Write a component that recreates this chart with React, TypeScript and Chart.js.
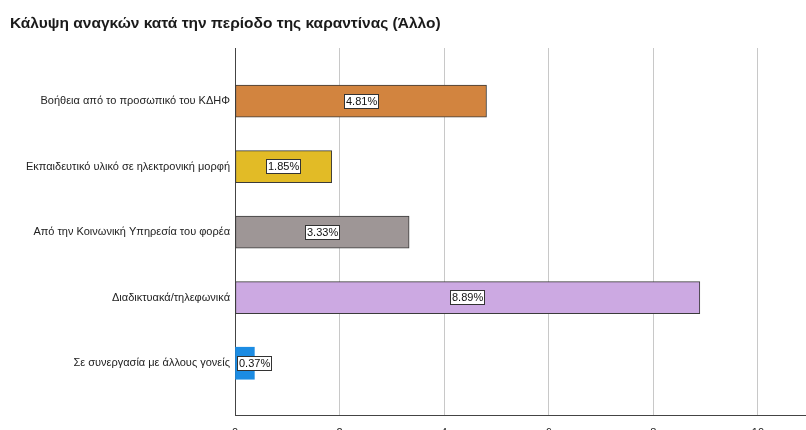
import React, { useEffect, useRef } from "react";
import { Chart, registerables } from "chart.js";

Chart.register(...registerables);

const TITLE = "Κάλυψη αναγκών κατά την περίοδο της καραντίνας (Άλλο)";
const categories = [
  "Βοήθεια από το προσωπικό του ΚΔΗΦ",
  "Εκπαιδευτικό υλικό σε ηλεκτρονική μορφή",
  "Από την Κοινωνική Υπηρεσία του φορέα",
  "Διαδικτυακά/τηλεφωνικά",
  "Σε συνεργασία με άλλους γονείς",
];
const values = [4.81, 1.85, 3.33, 8.89, 0.37];
const valueLabels = ["4.81%", "1.85%", "3.33%", "8.89%", "0.37%"];
const barColors = ["#D2843F", "#E2BB26", "#9E9696", "#CCA9E2", "#1C8CE3"];
const xTicks = [0, 2, 4, 6, 8, 10];

const FONT = "Arial, 'Liberation Sans', sans-serif";

const titlePlugin = {
  id: "customTitle",
  afterDraw(chart: any) {
    const ctx = chart.ctx;
    ctx.save();
    ctx.font = `bold 15.5px ${FONT}`;
    ctx.fillStyle = "#1a1a1a";
    ctx.textAlign = "left";
    ctx.textBaseline = "middle";
    ctx.fillText(TITLE, 10, 24);
    ctx.restore();
  },
};

const labelPlugin = {
  id: "boxLabels",
  afterDatasetsDraw(chart: any) {
    const ctx = chart.ctx;
    const meta = chart.getDatasetMeta(0);
    const area = chart.chartArea;
    ctx.save();
    ctx.font = `11px ${FONT}`;
    ctx.textBaseline = "middle";
    ctx.textAlign = "left";
    meta.data.forEach((bar: any, i: number) => {
      const text = valueLabels[i];
      const tw = ctx.measureText(text).width;
      const w = Math.round(tw + 4);
      const h = 15;
      const cx = (bar.x + bar.base) / 2;
      let left = Math.round(cx - w / 2);
      if (left < area.left + 2) left = Math.round(area.left + 2);
      const top = Math.round(bar.y - h / 2);
      ctx.fillStyle = "#ffffff";
      ctx.fillRect(left, top, w, h);
      ctx.strokeStyle = "#333333";
      ctx.lineWidth = 1;
      ctx.strokeRect(left + 0.5, top + 0.5, w - 1, h - 1);
      ctx.fillStyle = "#111111";
      ctx.fillText(text, left + 2, top + h / 2 + 0.5);
    });
    ctx.restore();
  },
};

export default function App() {
  const ref = useRef<HTMLCanvasElement | null>(null);
  useEffect(() => {
    if (!ref.current) return;
    const chart = new Chart(ref.current, {
      type: "bar",
      data: {
        datasets: [
          {
            data: values.map((v, i) => ({ x: v, y: i })),
            backgroundColor: barColors,
            borderColor: "#3a3a3a",
            borderWidth: [1, 1, 1, 1, 0],
            borderSkipped: false,
            barThickness: 32,
          },
        ],
      },
      plugins: [titlePlugin, labelPlugin],
      options: {
        indexAxis: "y",
        animation: false,
        responsive: false,
        maintainAspectRatio: false,
        layout: { padding: { top: 48, left: 0, right: 0, bottom: 0 } },
        plugins: {
          legend: { display: false },
          title: { display: false },
          tooltip: { enabled: false },
        },
        scales: {
          x: {
            type: "linear",
            min: 0,
            max: 10.92,
            offset: false,
            afterBuildTicks: (scale: any) => {
              scale.ticks = xTicks.map((v) => ({ value: v }));
            },
            afterFit: (scale: any) => {
              scale.height = 15;
            },
            grid: { color: "#c8c8c8", lineWidth: 1, drawTicks: false, offset: false },
            border: { display: true, color: "#444444", width: 1 },
            ticks: {
              padding: 11,
              font: { family: FONT, size: 11 },
              color: "#222222",
              maxRotation: 0,
            },
          },
          y: {
            type: "linear",
            reverse: true,
            offset: false,
            min: -0.81,
            max: 4.79,
            afterBuildTicks: (scale: any) => {
              scale.ticks = categories.map((_, i) => ({ value: i }));
            },
            afterFit: (scale: any) => {
              scale.width = 235;
            },
            grid: { display: false, drawTicks: false, offset: false },
            border: { display: true, color: "#444444", width: 1 },
            ticks: {
              padding: 5,
              font: { family: FONT, size: 11 },
              color: "#222222",
              callback: (v: any) => categories[Math.round(Number(v))] ?? "",
            },
          },
        },
      },
    } as any);
    return () => chart.destroy();
  }, []);
  return (
    <div style={{ position: "absolute", left: 0, top: 0, width: 806, height: 430, background: "#fff" }}>
      <canvas ref={ref} width={806} height={430} style={{ width: 806, height: 430, display: "block" }} />
    </div>
  );
}
